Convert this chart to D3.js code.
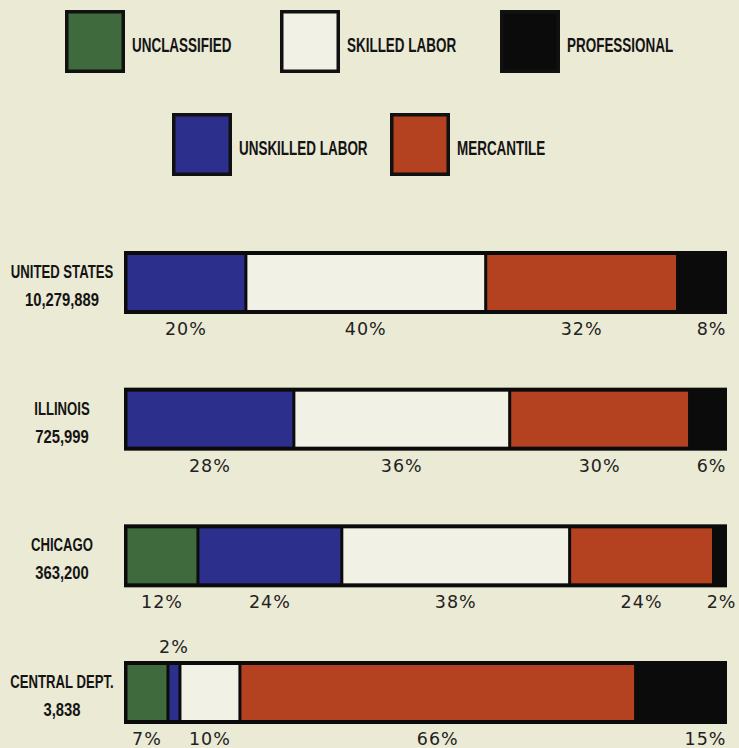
<!DOCTYPE html>
<html>
<head>
<meta charset="utf-8">
<script src="https://cdn.jsdelivr.net/npm/d3@7"></script>
<style>
  html, body { margin: 0; padding: 0; background: #ebead4; }
  svg { display: block; }
</style>
</head>
<body>
<svg id="chart" width="739" height="748"></svg>
<script>
// ---- DATA ----
const categories = ["UNITED STATES", "ILLINOIS", "CHICAGO", "CENTRAL DEPT."];
const totals = ["10,279,889", "725,999", "363,200", "3,838"];
const seriesNames = ["UNCLASSIFIED", "UNSKILLED LABOR", "SKILLED LABOR", "MERCANTILE", "PROFESSIONAL"];
const unclassified = [0, 0, 12, 7];
const unskilledLabor = [20, 28, 24, 2];
const skilledLabor = [40, 36, 38, 10];
const mercantile = [32, 30, 24, 66];
const professional = [8, 6, 2, 15];
const seriesColors = ["#3f6a3e", "#2c2f8c", "#f2f1e6", "#b4411f", "#0b0b0b"];
const legendRow1 = ["UNCLASSIFIED", "SKILLED LABOR", "PROFESSIONAL"];
const legendRow2 = ["UNSKILLED LABOR", "MERCANTILE"];

const seriesValues = [unclassified, unskilledLabor, skilledLabor, mercantile, professional];
const table = categories.map((c, i) => {
  const row = { category: c, total: totals[i] };
  seriesNames.forEach((s, j) => row[s] = seriesValues[j][i]);
  return row;
});

const svg = d3.select("#chart");
const color = d3.scaleOrdinal().domain(seriesNames).range(seriesColors);

// condensed bold text helper
function condensed(sel, factor) {
  sel.each(function() {
    const w = this.getComputedTextLength();
    d3.select(this).attr("textLength", w * factor).attr("lengthAdjust", "spacingAndGlyphs");
  });
}

// ---- LEGEND ----
const boxW = 60, boxH = 63;
const legendItems = [
  { name: legendRow1[0], x: 65, y: 10 },
  { name: legendRow1[1], x: 280, y: 10 },
  { name: legendRow1[2], x: 500, y: 10 },
  { name: legendRow2[0], x: 172, y: 113 },
  { name: legendRow2[1], x: 390, y: 113 }
];
const lg = svg.append("g").selectAll("g").data(legendItems).join("g")
  .attr("transform", d => `translate(${d.x},${d.y})`);
lg.append("rect").attr("x", 1.75).attr("y", 1.75)
  .attr("width", boxW - 3.5).attr("height", boxH - 3.5)
  .attr("fill", d => color(d.name)).attr("stroke", "#111").attr("stroke-width", 3.5);
lg.append("text").attr("x", boxW + 7).attr("y", 41.5)
  .attr("font-family", "'Liberation Sans', Arial, sans-serif")
  .attr("font-weight", "bold").attr("font-size", 19.5).attr("fill", "#141414")
  .text(d => d.name)
  .call(condensed, 0.69);

// ---- BARS ----
const x = d3.scaleLinear().domain([0, 100]).range([126, 725.5]);
const y = d3.scalePoint().domain(categories).range([251, 661]);
const barH = 63;

const stack = d3.stack().keys(seriesNames);
const layers = stack(table);

const bars = svg.append("g");
bars.selectAll("rect.frame").data(table).join("rect").attr("class", "frame")
  .attr("x", x(0) - 2).attr("width", x(100) - x(0) + 3.5)
  .attr("y", d => y(d.category)).attr("height", barH)
  .attr("fill", "#0b0b0b");

layers.forEach(layer => {
  bars.append("g").selectAll("rect").data(layer.filter(d => d[1] > d[0])).join("rect")
    .attr("x", d => x(d[0]) + 1.5)
    .attr("width", d => Math.max(0, x(d[1]) - x(d[0]) - 3))
    .attr("y", d => y(d.data.category) + 4)
    .attr("height", barH - 8)
    .attr("fill", color(layer.key));
});

// ---- CATEGORY LABELS ----
const labelX = 62;
const lab = svg.append("g");
lab.selectAll("text.name").data(table).join("text").attr("class", "name")
  .attr("x", labelX).attr("y", d => y(d.category) + 27)
  .attr("text-anchor", "middle")
  .attr("font-family", "'Liberation Sans', Arial, sans-serif")
  .attr("font-weight", "bold").attr("font-size", 18.5).attr("fill", "#141414")
  .text(d => d.category)
  .call(condensed, 0.71);
lab.selectAll("text.total").data(table).join("text").attr("class", "total")
  .attr("x", labelX).attr("y", d => y(d.category) + 55)
  .attr("text-anchor", "middle")
  .attr("font-family", "'Liberation Sans', Arial, sans-serif")
  .attr("font-weight", "bold").attr("font-size", 18.5).attr("fill", "#141414")
  .text(d => d.total)
  .call(condensed, 0.8);

// ---- PERCENT LABELS ----
const pct = svg.append("g")
  .attr("font-family", "'DejaVu Sans', sans-serif")
  .attr("font-size", 17.5).attr("fill", "#222").attr("letter-spacing", 1);
const lastKey = seriesNames[seriesNames.length - 1];
layers.forEach(layer => {
  layer.forEach(d => {
    const v = d[1] - d[0];
    if (v <= 0) return;
    const top = y(d.data.category);
    const isLast = layer.key === lastKey;
    const above = v < 4 && !isLast;
    const t = pct.append("text").text(v + "%");
    if (isLast) {
      t.attr("x", x(100) + (v < 4 ? 11 : 1)).attr("text-anchor", "end");
    } else {
      t.attr("x", (x(d[0]) + x(d[1])) / 2).attr("text-anchor", "middle");
    }
    t.attr("y", above ? top - 8 : top + barH + 21);
  });
});
</script>
</body>
</html>
